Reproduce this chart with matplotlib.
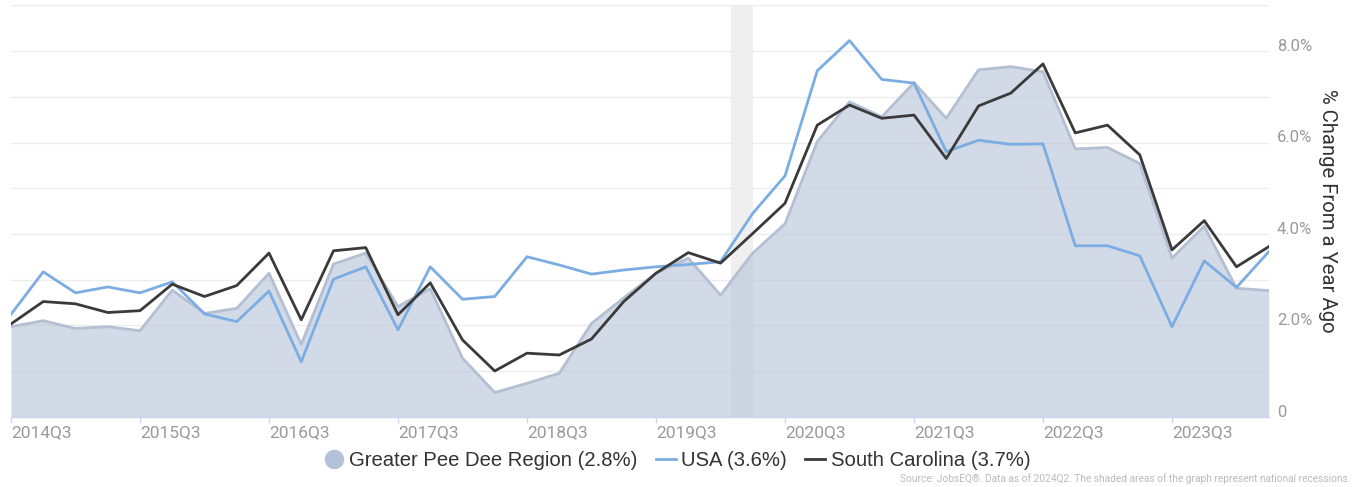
import numpy as np
import matplotlib
matplotlib.use("Agg")
import matplotlib.pyplot as plt
from matplotlib.lines import Line2D

# ── 데이터 (2014Q3 ~ 2024Q2, 분기별 전년 대비 % 변화) ─────────────────────
quarters = [f"{y}Q{q}" for y in range(2014, 2025) for q in range(1, 5)][2:42]

region = [1.97, 2.10, 1.93, 1.97, 1.88, 2.77, 2.26, 2.37, 3.14, 1.58,
          3.34, 3.58, 2.41, 2.80, 1.28, 0.53, 0.73, 0.95, 2.04, 2.60,
          3.14, 3.47, 2.66, 3.58, 4.22, 6.02, 6.89, 6.56, 7.31, 6.53,
          7.59, 7.66, 7.55, 5.86, 5.89, 5.54, 3.47, 4.17, 2.81, 2.76]
usa = [2.24, 3.17, 2.71, 2.84, 2.71, 2.95, 2.25, 2.08, 2.75, 1.20,
       3.01, 3.28, 1.90, 3.28, 2.57, 2.63, 3.50, 3.32, 3.12, 3.21,
       3.28, 3.33, 3.39, 4.45, 5.27, 7.57, 8.23, 7.38, 7.30, 5.80,
       6.05, 5.96, 5.97, 3.74, 3.74, 3.52, 1.97, 3.41, 2.83, 3.61]
sc = [2.03, 2.52, 2.47, 2.28, 2.32, 2.90, 2.63, 2.87, 3.58, 2.12,
      3.63, 3.70, 2.23, 2.93, 1.68, 1.00, 1.39, 1.35, 1.70, 2.52,
      3.14, 3.59, 3.36, 4.01, 4.67, 6.38, 6.82, 6.53, 6.60, 5.65,
      6.80, 7.08, 7.72, 6.21, 6.38, 5.73, 3.65, 4.29, 3.28, 3.72]

recession = (22.33, 23.0)   # 2020Q1 ~ 2020Q2 (분기 인덱스)
labels = ["Greater Pee Dee Region (2.8%)", "USA (3.6%)", "South Carolina (3.7%)"]

# ── 그림 ──────────────────────────────────────────────────────────────────
W, H = 1364, 487
fig = plt.figure(figsize=(W / 100, H / 100), dpi=100)
ax = fig.add_axes([11 / W, 1 - 416.7 / H, (1268.75 - 11) / W, (416.7 - 5.4) / H])

x = np.arange(len(quarters))

ax.axvspan(*recession, color="#efefef", lw=0, zorder=0)
ax.fill_between(x, 0, region, color="#b7c4d9", alpha=0.62, lw=0, zorder=2)
ax.plot(x, region, color="#b3bfd2", lw=2, zorder=3)
ax.plot(x, usa, color="#7cade2", lw=2, zorder=4)
ax.plot(x, sc, color="#3a3a3a", lw=2, zorder=5)

ax.set_xlim(0, len(quarters) - 1)
ax.set_ylim(0, 9)

# y축 (오른쪽) — 격자는 1%마다, 라벨은 2%마다
ax.yaxis.tick_right()
ax.set_yticks(range(0, 10))
ax.set_yticklabels(["0" if v == 0 else (f"{v:.1f}%" if v % 2 == 0 and v < 9 else "")
                    for v in range(0, 10)])
ax.tick_params(axis="y", length=0, pad=6, labelsize=12, labelcolor="#9a9a9a")
for lbl in ax.get_yticklabels():
    lbl.set_fontfamily("Roboto")
    lbl.set_horizontalalignment("left")
    lbl.set_verticalalignment("baseline")
ax.grid(axis="y", color="#ececec", lw=1, zorder=1)
ax.set_axisbelow(True)

# x축 — 매년 Q3
xt = list(range(0, len(quarters), 4))
ax.set_xticks(xt)
ax.set_xticklabels([quarters[i] for i in xt])
ax.tick_params(axis="x", length=4.5, width=1, color="#ccd6eb", pad=1.5,
               labelsize=12.5, labelcolor="#9a9a9a")
for lbl in ax.get_xticklabels():
    lbl.set_fontfamily("Roboto")
    lbl.set_horizontalalignment("left")

for s in ["top", "left", "right"]:
    ax.spines[s].set_visible(False)
ax.spines["bottom"].set_color("#ccd6eb")
ax.spines["bottom"].set_linewidth(1)

fig.text(1327 / W, 1 - 211 / H, "% Change From a Year Ago", rotation=270,
         ha="center", va="center", fontsize=14.6, color="#333333", family="Roboto")

# 범례
handles = [
    Line2D([], [], ls="none", marker="o", markersize=13, color="#b3c2d8"),
    Line2D([], [], color="#7cade2", lw=2),
    Line2D([], [], color="#3a3a3a", lw=2),
]
fig.legend(handles, labels, loc="center", bbox_to_anchor=(677 / W, 1 - 461 / H),
           ncol=3, frameon=False, handlelength=1.0, handletextpad=0.25,
           columnspacing=0.9, prop={"family": "Liberation Sans", "size": 14.6},
           labelcolor="#333333")

fig.text(1350 / W, 1 - 479 / H,
         "Source: JobsEQ®. Data as of 2024Q2. The shaded areas of the graph represent national recessions.",
         ha="right", va="center", fontsize=7.3, color="#bbbbbb", family="Roboto")

fig.savefig("out.png", dpi=100)
